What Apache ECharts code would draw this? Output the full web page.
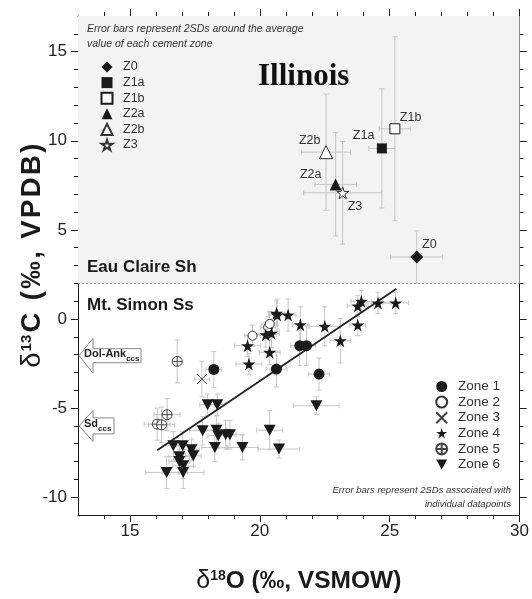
<!DOCTYPE html>
<html>
<head>
<meta charset="utf-8">
<script src="https://cdn.jsdelivr.net/npm/echarts@6/dist/echarts.min.js"></script>
<style>
  html, body { margin: 0; padding: 0; background: #fff; }
  #chart { width: 532px; height: 599px; }
</style>
</head>
<body>
<div id="chart"></div>
<script>
// ---- Illinois cement-zone averages (δ18O ‰ VSMOW, δ13C ‰ VPDB, 2SD δ18O, 2SD δ13C)
const zoneNames = ['Z0', 'Z1a', 'Z1b', 'Z2a', 'Z2b', 'Z3'];
const zoneO18   = [26.04, 24.70, 25.20, 22.92, 22.55, 23.19];
const zoneC13   = [3.48, 9.57, 10.67, 7.55, 9.36, 7.08];
const zoneErrO  = [1.00, 0.50, 0.60, 0.80, 0.95, 1.50];
const zoneErrC  = [1.46, 3.34, 5.16, 2.90, 3.26, 2.88];

// ---- Mt. Simon individual datapoints: [δ18O, δ13C, 2SD δ18O, 2SD δ13C]
const zone1 = [
  [18.23, -2.83, 0.30, 1.00], [20.64, -2.81, 0.40, 1.00], [21.54, -1.50, 0.35, 1.10],
  [21.80, -1.50, 0.35, 1.10], [22.28, -3.09, 0.40, 0.90]
];
const zone2 = [
  [19.72, -0.94, 0.30, 0.60], [20.32, -0.47, 0.30, 0.60], [20.38, -0.28, 0.30, 0.70]
];
const zone3 = [
  [17.77, -3.37, 0.30, 1.00]
];
const zone4 = [
  [19.53, -1.50, 0.50, 0.60], [19.58, -2.53, 0.50, 0.60], [20.23, -0.88, 0.40, 0.70],
  [20.45, -0.80, 0.30, 0.80], [20.64, 0.32, 0.30, 0.70], [20.38, -1.87, 0.40, 0.70],
  [20.67, 0.22, 0.30, 0.90], [21.09, 0.22, 0.30, 0.90], [21.56, -0.32, 0.30, 1.00],
  [22.50, -0.41, 0.60, 1.10], [23.10, -1.22, 0.40, 1.25], [23.77, 0.73, 0.40, 0.60],
  [23.91, 0.99, 0.40, 0.60], [23.77, -0.34, 0.30, 0.60], [24.55, 0.90, 0.50, 0.60],
  [25.23, 0.90, 0.50, 0.60]
];
const zone5 = [
  [16.82, -2.38, 0.10, 1.20], [16.43, -5.37, 0.50, 0.90], [16.05, -5.90, 0.50, 0.90],
  [16.22, -5.94, 0.50, 1.00]
];
const zone6 = [
  [17.99, -4.81, 0.30, 0.60], [18.36, -4.81, 0.30, 0.60], [17.80, -6.27, 0.50, 0.80],
  [18.33, -6.24, 0.40, 0.80], [18.40, -6.55, 0.40, 0.70], [18.69, -6.50, 0.40, 0.80],
  [18.85, -6.50, 0.50, 0.80], [20.38, -6.24, 0.50, 1.10], [16.67, -7.12, 0.40, 0.80],
  [17.03, -7.12, 0.40, 0.80], [17.37, -7.34, 0.30, 0.60], [17.44, -7.68, 0.30, 0.60],
  [16.90, -7.73, 0.40, 0.70], [16.90, -8.00, 0.40, 0.70], [17.05, -8.24, 0.40, 0.70],
  [17.05, -8.61, 0.80, 0.90], [16.41, -8.61, 0.80, 0.90], [18.27, -7.21, 0.50, 0.80],
  [19.33, -7.21, 0.60, 0.70], [20.74, -7.30, 0.80, 0.50], [22.18, -4.87, 0.87, 0.50]
];

// ---- Regression line through the Mt. Simon data
const fitO18 = [16.05, 25.26];
const fitC13 = [-7.36, 1.70];

// ---- Calculated carbonate compositions (arrows on the δ13C axis)
const ccsNames = ['Dol-Ank', 'Sd'];
const ccsC13   = [-2.06, -6.00];

// ---- Axes
const xTicks = [15, 20, 25, 30];
const yTicks = [-10, -5, 0, 5, 10, 15];
const XMIN = 13, XMAX = 30, YMIN = -11, YMAX = 17;
const formationBoundary = 2;   // δ13C separating Eau Claire Sh from Mt. Simon Ss

const minorX = [];
for (let v = XMIN + 1; v < XMAX; v++) if (!xTicks.includes(v)) minorX.push(v);
const minorY = [];
for (let v = YMIN + 1; v < YMAX; v++) if (!yTicks.includes(v)) minorY.push(v);

// ---- Styling
const INK = '#1a1a1a';
const ERR = '#c6c6c6';
const FONT = '"Liberation Sans", Arial, sans-serif';
const STAR = 'path://M50,0 L61,35 L98,35 L68,57 L79,91 L50,70 L21,91 L32,57 L2,35 L39,35 Z';
const CROSS = 'path://M0,0 L20,20 M20,0 L0,20';
const OPLUS = 'path://M0,10 A10,10 0 1 1 20,10 A10,10 0 1 1 0,10 Z M10,0 L10,20 M0,10 L20,10';
const DOWN_TRI = 'path://M0,0 L20,0 L10,18 Z';

const zoneMarker = {
  Z0:  { symbol: 'diamond',  size: 13, fill: INK },
  Z1a: { symbol: 'rect',     size: 10, fill: INK },
  Z1b: { symbol: 'rect',     size: 10, fill: '#fff', border: INK },
  Z2a: { symbol: 'triangle', size: 12, fill: INK },
  Z2b: { symbol: 'triangle', size: 13, fill: '#fff', border: '#333' },
  Z3:  { symbol: STAR,       size: 12, fill: '#fff', border: '#333' }
};
const zoneLabelOffset = {
  Z0: [12.7, -12.3], Z1a: [-18.3, -13], Z1b: [15.7, -11],
  Z2a: [-25, -10], Z2b: [-16.3, -11.6], Z3: [12.3, 13.3]
};
const ptMarker = [
  { name: 'Zone 1', data: zone1, symbol: 'circle', size: 11, fill: INK },
  { name: 'Zone 2', data: zone2, symbol: 'circle', size: 9, fill: '#fff', border: '#333' },
  { name: 'Zone 3', data: zone3, symbol: CROSS, size: 10, fill: 'rgba(0,0,0,0)', border: '#444' },
  { name: 'Zone 4', data: zone4, symbol: STAR, size: 13, fill: INK },
  { name: 'Zone 5', data: zone5, symbol: OPLUS, size: 10, fill: '#fff', border: '#444' },
  { name: 'Zone 6', data: zone6, symbol: DOWN_TRI, size: [12, 11], fill: INK }
];
const ccsArrow = { head: 14, headHalf: [17.5, 15.5], bodyHalf: [7, 8], bodyWidth: [48, 21] };

// ---- Error bars with end caps, drawn through the chart's own scales
function errorBarItem(params, api) {
  const x = api.value(0), y = api.value(1), ex = api.value(2), ey = api.value(3);
  const l = api.coord([x - ex, y]), r = api.coord([x + ex, y]);
  const t = api.coord([x, y + ey]), b = api.coord([x, y - ey]);
  const c = 2.5;
  const style = { stroke: ERR, lineWidth: 1, fill: null };
  const seg = (x1, y1, x2, y2) => ({ type: 'line', shape: { x1, y1, x2, y2 }, style });
  return {
    type: 'group',
    children: [
      seg(l[0], l[1], r[0], r[1]),
      seg(t[0], t[1], b[0], b[1]),
      seg(l[0], l[1] - c, l[0], l[1] + c),
      seg(r[0], r[1] - c, r[0], r[1] + c),
      seg(t[0] - c, t[1], t[0] + c, t[1]),
      seg(b[0] - c, b[1], b[0] + c, b[1])
    ]
  };
}

// ---- Left-pointing arrows marking calculated compositions
function ccsArrowItem(params, api) {
  const i = params.dataIndex;
  const p = api.coord([api.value(0), api.value(1)]);
  const tip = p[0] + 1, y = p[1];
  const hx = tip + ccsArrow.head;
  const hh = ccsArrow.headHalf[i], bh = ccsArrow.bodyHalf[i];
  const ex = hx + ccsArrow.bodyWidth[i];
  return {
    type: 'group',
    children: [
      {
        type: 'polygon',
        shape: { points: [[tip, y], [hx, y - hh], [hx, y - bh], [ex, y - bh], [ex, y + bh], [hx, y + bh], [hx, y + hh]] },
        style: { fill: '#fff', stroke: '#8a8a8a', lineWidth: 1 }
      },
      {
        type: 'text',
        x: tip + 5, y: y,
        style: {
          text: '{m|' + ccsNames[i] + '}{s|ccs}',
          verticalAlign: 'middle', align: 'left',
          rich: {
            m: { fontSize: 11, fontWeight: 'bold', fontFamily: FONT, fill: '#222', verticalAlign: 'bottom', padding: [0, 0, 3, 0] },
            s: { fontSize: 8, fontWeight: 'bold', fontFamily: FONT, fill: '#222', verticalAlign: 'bottom' }
          }
        }
      }
    ]
  };
}

function xAxisDef(position, values, len, showLine, withLabels) {
  return {
    type: 'value', min: XMIN, max: XMAX, position,
    axisLine: { show: showLine, onZero: false, lineStyle: { color: INK, width: 1 } },
    axisTick: { show: true, customValues: values, length: len, inside: false, lineStyle: { color: INK, width: 1 } },
    axisLabel: withLabels
      ? { show: true, customValues: xTicks, fontSize: 17, color: '#222', fontFamily: FONT, margin: 8 }
      : { show: false },
    splitLine: { show: false }
  };
}
function yAxisDef(position, values, len, showLine, withLabels) {
  return {
    type: 'value', min: YMIN, max: YMAX, position,
    axisLine: { show: showLine, onZero: false, lineStyle: { color: INK, width: 1 } },
    axisTick: { show: true, customValues: values, length: len, inside: false, lineStyle: { color: INK, width: 1 } },
    axisLabel: withLabels
      ? { show: true, customValues: yTicks, fontSize: 17, color: '#222', fontFamily: FONT, margin: 11 }
      : { show: false },
    splitLine: { show: false }
  };
}

const xBottom = xAxisDef('bottom', xTicks, 7, true, true);
xBottom.name = '{d|δ}{s|18}{b|O (‰, VSMOW)}';
xBottom.nameLocation = 'middle';
xBottom.nameGap = 54;
xBottom.nameTextStyle = {
  rich: {
    d: { fontSize: 25, fontFamily: FONT, color: INK, verticalAlign: 'bottom' },
    s: { fontSize: 14, fontWeight: 'bold', fontFamily: FONT, color: INK, verticalAlign: 'bottom', padding: [0, 0, 11, 0] },
    b: { fontSize: 24.5, fontWeight: 'bold', fontFamily: FONT, color: INK, verticalAlign: 'bottom' }
  }
};

// δ13C axis title, set with slightly opened letter spacing
const yTitleRest = 'C (‰, VPDB)';
const yTitleText = '{d|δ}{s|13}' + yTitleRest.split('').map(ch => '{b|' + ch + '}').join('');

const series = [];

// shaded Eau Claire field and formation boundary
series.push({
  type: 'line', data: [], z: 0, silent: true,
  markArea: {
    silent: true,
    itemStyle: { color: '#f3f3f3' },
    data: [[{ coord: [XMIN, formationBoundary] }, { coord: [XMAX, YMAX] }]]
  },
  markLine: {
    silent: true, symbol: 'none', label: { show: false },
    lineStyle: { color: '#9a9a9a', type: [2, 2], width: 1 },
    data: [{ yAxis: formationBoundary }]
  }
});

// error bars
series.push({
  type: 'custom', name: 'zone error', z: 1, silent: true,
  renderItem: errorBarItem, encode: { x: 0, y: 1 },
  data: zoneNames.map((n, i) => [zoneO18[i], zoneC13[i], zoneErrO[i], zoneErrC[i]])
});
series.push({
  type: 'custom', name: 'point error', z: 1, silent: true,
  renderItem: errorBarItem, encode: { x: 0, y: 1 },
  data: [].concat(zone1, zone2, zone3, zone4, zone5, zone6)
});

// regression line
series.push({
  type: 'line', name: 'fit', z: 2, silent: true, symbol: 'none',
  lineStyle: { color: '#222', width: 1.8 },
  data: fitO18.map((x, i) => [x, fitC13[i]])
});

// zone averages
zoneNames.forEach((n, i) => {
  const m = zoneMarker[n];
  series.push({
    type: 'scatter', name: n, z: 4,
    symbol: m.symbol, symbolSize: m.size,
    itemStyle: { color: m.fill, borderColor: m.border || m.fill, borderWidth: m.border ? 1 : 0, opacity: 1 },
    label: {
      show: true, position: 'inside', formatter: n, offset: zoneLabelOffset[n],
      fontSize: 12.5, color: '#333', fontFamily: FONT
    },
    data: [[zoneO18[i], zoneC13[i]]]
  });
});

// individual datapoints
ptMarker.forEach(m => {
  series.push({
    type: 'scatter', name: m.name, z: 3,
    symbol: m.symbol, symbolSize: m.size,
    itemStyle: { color: m.fill, borderColor: m.border || m.fill, borderWidth: m.border ? 1 : 0, opacity: 1 },
    data: m.data.map(d => [d[0], d[1]])
  });
});

// calculated composition arrows
series.push({
  type: 'custom', name: 'ccs', z: 5, silent: true, clip: false,
  renderItem: ccsArrowItem, encode: { x: 0, y: 1 },
  data: ccsC13.map(c => [XMIN, c])
});

const option = {
  animation: false,
  backgroundColor: '#fff',
  grid: { left: 78, right: 11, top: 16, bottom: 83, containLabel: false },
  xAxis: [
    xBottom,
    xAxisDef('bottom', minorX, 4, false, false),
    xAxisDef('top', xTicks, 7, true, false),
    xAxisDef('top', minorX, 4, false, false)
  ],
  yAxis: [
    yAxisDef('left', yTicks, 7, true, true),
    yAxisDef('left', minorY, 4, false, false),
    yAxisDef('right', yTicks, 7, true, false),
    yAxisDef('right', minorY, 4, false, false)
  ],
  legend: [
    {
      data: zoneNames, orient: 'vertical', left: 100.5, top: 60.5, padding: 0,
      itemWidth: 11, itemHeight: 11, itemGap: 2.6, selectedMode: false,
      textStyle: { fontSize: 12.5, color: '#333', fontFamily: FONT, padding: [0, 0, 0, 5.5] }
    },
    {
      data: ptMarker.map(m => m.name), orient: 'vertical', left: 435.2, top: 379.5, padding: 0,
      itemWidth: 11, itemHeight: 11, itemGap: 1.6, selectedMode: false,
      textStyle: { fontSize: 13.5, color: '#333', fontFamily: FONT, padding: [0, 0, 0, 5.8] }
    }
  ],
  graphic: [
    {
      type: 'text', left: 87, top: 21, z: 10,
      style: {
        text: 'Error bars represent 2SDs around the average\nvalue of each cement zone',
        font: 'italic 10.5px ' + FONT, fill: '#333', lineHeight: 15.5
      }
    },
    {
      type: 'text', x: 258, y: 77, z: 10,
      style: { text: 'Illinois', font: 'bold 31px "Liberation Serif", "Times New Roman", serif', fill: '#111', verticalAlign: 'middle' }
    },
    {
      type: 'text', x: 87, y: 267, z: 10,
      style: { text: 'Eau Claire Sh', font: 'bold 17px ' + FONT, fill: '#1a1a1a', verticalAlign: 'middle' }
    },
    {
      type: 'text', x: 87, y: 305, z: 10,
      style: { text: 'Mt. Simon Ss', font: 'bold 17px ' + FONT, fill: '#1a1a1a', verticalAlign: 'middle' }
    },
    {
      type: 'text', x: 511, y: 497, z: 10,
      style: {
        text: 'Error bars represent 2SDs associated with\nindividual datapoints',
        font: 'italic 9.5px ' + FONT, fill: '#333', lineHeight: 14, align: 'right', verticalAlign: 'middle'
      }
    },
    {
      type: 'text', x: 32, y: 255, rotation: Math.PI / 2, z: 10,
      style: {
        text: yTitleText,
        align: 'center', verticalAlign: 'middle',
        rich: {
          d: { fontSize: 27.5, fontFamily: FONT, fill: INK, verticalAlign: 'bottom', padding: [0, 1, 0, 0] },
          s: { fontSize: 15, fontWeight: 'bold', fontFamily: FONT, fill: INK, verticalAlign: 'bottom', padding: [0, 1, 12, 0] },
          b: { fontSize: 27.5, fontWeight: 'bold', fontFamily: FONT, fill: INK, verticalAlign: 'bottom', padding: [0, 1.2, 0, 1.2] }
        }
      }
    }
  ],
  series
};

const chart = echarts.init(document.getElementById('chart'), null, { renderer: 'canvas' });
chart.setOption(option);
</script>
</body>
</html>
